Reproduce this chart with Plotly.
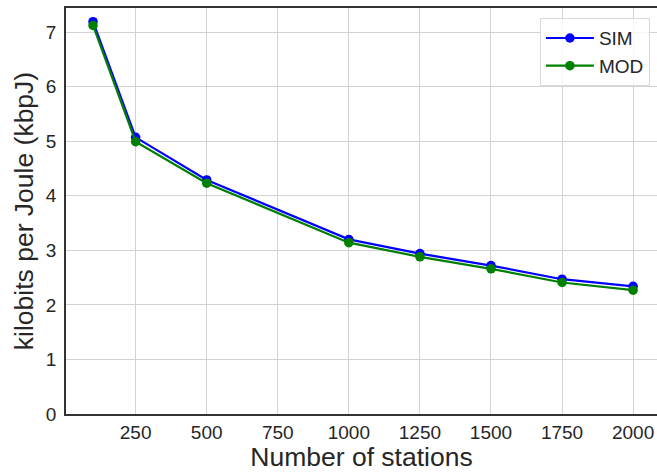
import plotly.graph_objects as go

stations = [100, 250, 500, 1000, 1250, 1500, 1750, 2000]
sim = [7.19, 5.07, 4.29, 3.20, 2.94, 2.72, 2.47, 2.34]
mod = [7.12, 4.99, 4.23, 3.14, 2.88, 2.66, 2.41, 2.27]
x_ticks = [250, 500, 750, 1000, 1250, 1500, 1750, 2000]
y_ticks = [0, 1, 2, 3, 4, 5, 6, 7]

font = "Liberation Sans, Arial, sans-serif"
fig = go.Figure()
fig.add_trace(go.Scatter(x=stations, y=sim, mode="lines+markers", name="SIM",
                         line=dict(color="#0000ff", width=2.2), marker=dict(size=9.5, color="#0000ff")))
fig.add_trace(go.Scatter(x=stations, y=mod, mode="lines+markers", name="MOD",
                         line=dict(color="#008000", width=2.2), marker=dict(size=9.5, color="#008000")))

fig.update_layout(
    width=657, height=472,
    margin=dict(l=66, r=0, t=8, b=58),
    plot_bgcolor="white", paper_bgcolor="white",
    font=dict(family=font, size=19, color="#262626"),
    showlegend=True,
    legend=dict(x=0.988, y=0.975, xanchor="right", yanchor="top",
                bgcolor="rgba(255,255,255,0.8)", bordercolor="#d9d9d9", borderwidth=1,
                font=dict(size=19, color="#262626"), tracegroupgap=4, itemwidth=48),
    xaxis=dict(range=[5, 2084], tickvals=x_ticks, showgrid=True, gridcolor="#d3d3d3", gridwidth=1.2,
               showline=True, linecolor="#333333", linewidth=1.8, mirror=True, zeroline=False,
               ticks="", tickfont=dict(size=19), automargin=False, ticklabelstandoff=0,
               title=dict(text="Number of stations", font=dict(size=26.5), standoff=6)),
    yaxis=dict(range=[0, 7.44], tickvals=y_ticks, showgrid=True, gridcolor="#d3d3d3", gridwidth=1.2,
               showline=True, linecolor="#333333", linewidth=1.8, zeroline=False,
               ticks="", tickfont=dict(size=19), automargin=False, ticklabelstandoff=4,
               title=dict(text="kilobits per Joule (kbpJ)", font=dict(size=26.5), standoff=4)),
)
fig.write_html("out.html", config={"displayModeBar": False},
               post_script="document.body.style.margin='0';document.body.style.overflow='hidden';")
